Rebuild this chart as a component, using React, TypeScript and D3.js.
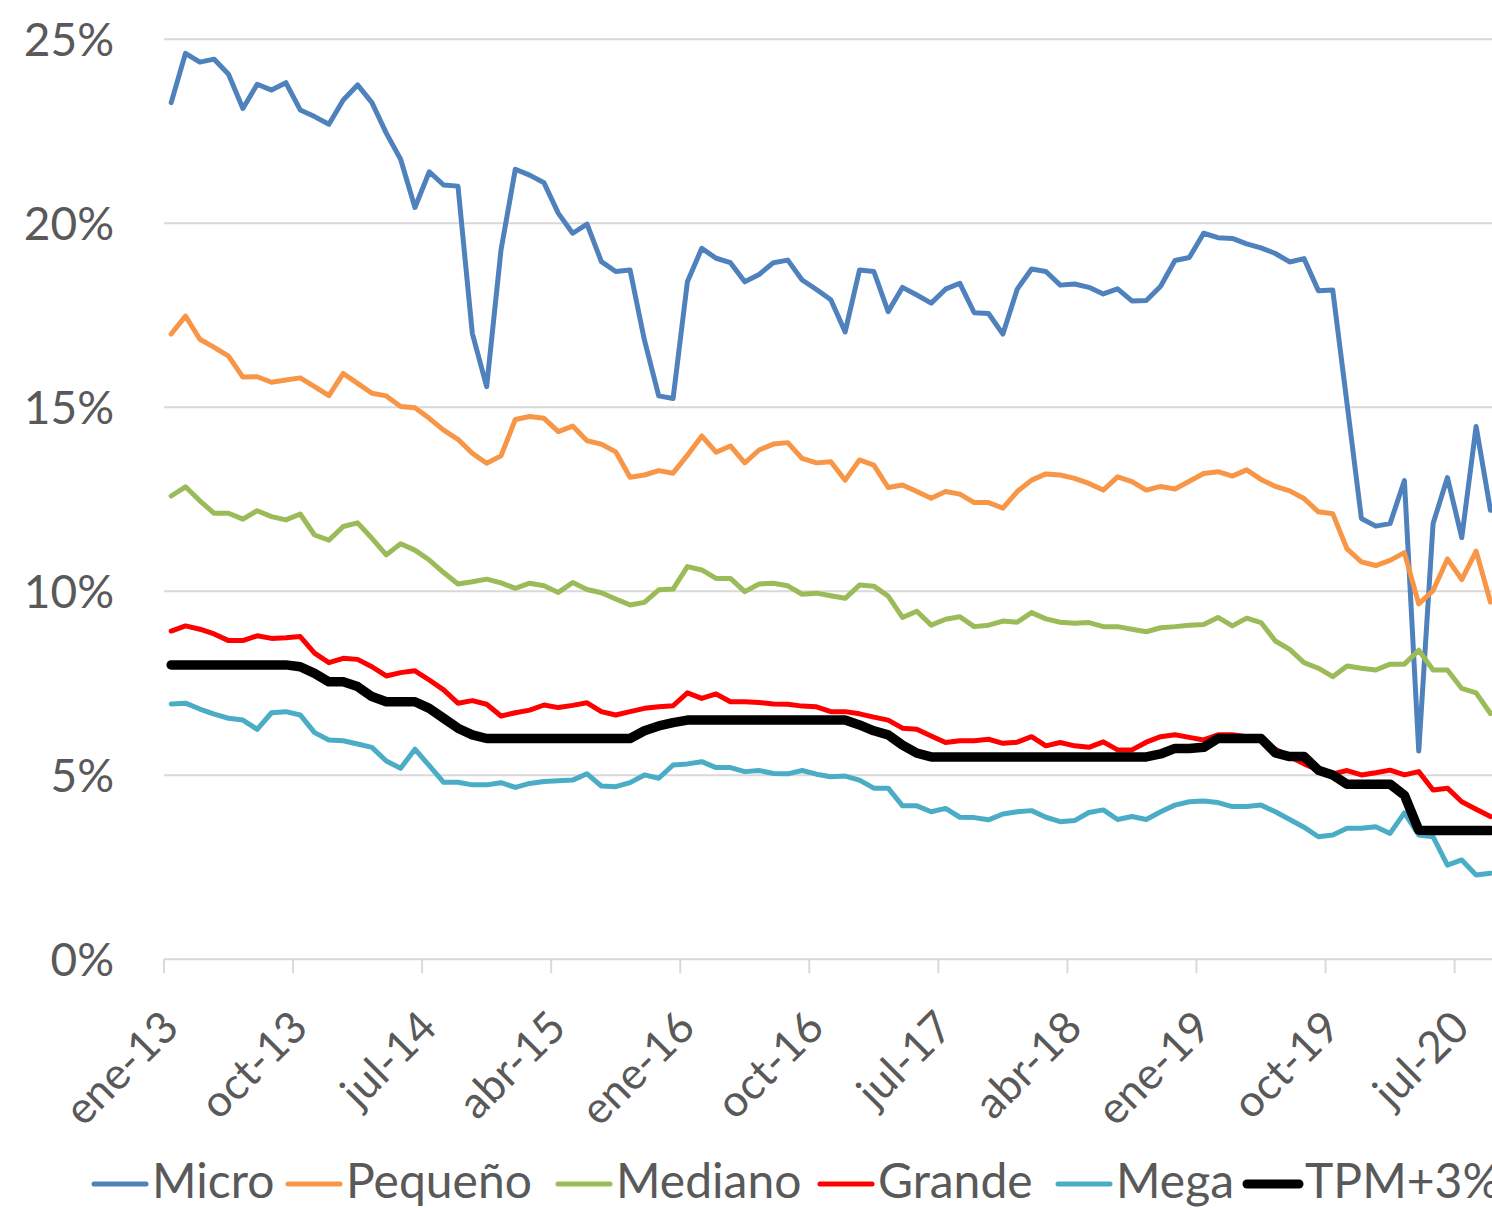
import * as d3 from "d3";

const MONTHS = ["ene", "feb", "mar", "abr", "may", "jun", "jul", "ago", "sep", "oct", "nov", "dic"];

// ene-13 .. sep-20, monthly
const categories: string[] = [];
for (let yr = 13; yr <= 20; yr++) {
    for (const m of MONTHS) categories.push(`${m}-${yr}`);
}
categories.splice(93);

const yTicks = [0, 5, 10, 15, 20, 25];

const micro = [
    23.28, 24.62, 24.38, 24.46, 24.05, 23.12, 23.78, 23.62, 23.82, 23.08,
    22.9, 22.69, 23.35, 23.76, 23.28, 22.45, 21.74, 20.43, 21.4, 21.04,
    21.01, 17.01, 15.56, 19.27, 21.47, 21.31, 21.1, 20.27, 19.73, 19.98,
    18.96, 18.69, 18.73, 16.83, 15.31, 15.24, 18.41, 19.32, 19.05, 18.93,
    18.41, 18.61, 18.93, 19.0, 18.46, 18.2, 17.92, 17.05, 18.73, 18.69,
    17.6, 18.26, 18.05, 17.83, 18.21, 18.37, 17.57, 17.55, 16.99, 18.21,
    18.76, 18.69, 18.32, 18.35, 18.26, 18.08, 18.22, 17.89, 17.9, 18.29,
    18.99, 19.07, 19.73, 19.61, 19.59, 19.44, 19.33, 19.18, 18.95, 19.04,
    18.17, 18.19, 15.1, 11.98, 11.77, 11.84, 13.01, 5.66, 11.84, 13.09,
    11.46, 14.48, 12.2,
];

const pequeno = [
    16.99, 17.48, 16.85, 16.63, 16.39, 15.82, 15.83, 15.68, 15.74, 15.8,
    15.56, 15.32, 15.92, 15.65, 15.38, 15.31, 15.02, 14.99, 14.7, 14.38,
    14.13, 13.75, 13.48, 13.68, 14.67, 14.75, 14.7, 14.34, 14.49, 14.09,
    14.0, 13.79, 13.1, 13.16, 13.28, 13.21, 13.7, 14.22, 13.78, 13.95,
    13.49, 13.84, 14.0, 14.04, 13.61, 13.49, 13.52, 13.02, 13.57, 13.43,
    12.82, 12.89, 12.71, 12.53, 12.71, 12.64, 12.41, 12.41, 12.26, 12.71,
    13.02, 13.19, 13.16, 13.07, 12.93, 12.75, 13.11, 12.98, 12.75, 12.85,
    12.78, 12.99, 13.2, 13.25, 13.13, 13.3, 13.04, 12.85, 12.73, 12.52,
    12.16, 12.11, 11.15, 10.8, 10.7, 10.84, 11.05, 9.66, 10.02, 10.88,
    10.32, 11.09, 9.71,
];

const mediano = [
    12.59, 12.84, 12.46, 12.12, 12.12, 11.96, 12.19, 12.03, 11.94, 12.1,
    11.53, 11.39, 11.76, 11.86, 11.44, 10.99, 11.29, 11.12, 10.85, 10.51,
    10.2, 10.26, 10.33, 10.23, 10.08, 10.22, 10.15, 9.97, 10.24, 10.05,
    9.96, 9.79, 9.63, 9.7, 10.04, 10.06, 10.67, 10.58, 10.35, 10.35,
    9.99, 10.2, 10.22, 10.15, 9.92, 9.95, 9.88, 9.81, 10.17, 10.14,
    9.87, 9.29, 9.46, 9.08, 9.24, 9.31, 9.04, 9.08, 9.19, 9.16,
    9.42, 9.25, 9.16, 9.13, 9.15, 9.04, 9.04, 8.97, 8.9, 9.01,
    9.04, 9.08, 9.1, 9.29, 9.06, 9.27, 9.15, 8.65, 8.42, 8.06,
    7.91, 7.68, 7.97, 7.91, 7.86, 8.02, 8.02, 8.4, 7.86, 7.86,
    7.36, 7.24, 6.68,
];

const grande = [
    8.92, 9.06, 8.97, 8.84, 8.66, 8.66, 8.79, 8.72, 8.74, 8.77,
    8.32, 8.06, 8.18, 8.15, 7.95, 7.7, 7.79, 7.84, 7.59, 7.32,
    6.96, 7.03, 6.93, 6.61, 6.7, 6.77, 6.91, 6.84, 6.9, 6.97,
    6.73, 6.64, 6.73, 6.82, 6.86, 6.89, 7.24, 7.09, 7.21, 7.0,
    7.0, 6.98, 6.94, 6.93, 6.88, 6.86, 6.73, 6.73, 6.67, 6.58,
    6.5, 6.28, 6.25, 6.07, 5.89, 5.94, 5.94, 5.98, 5.87, 5.9,
    6.05, 5.8, 5.89, 5.8, 5.76, 5.91, 5.69, 5.69, 5.9, 6.05,
    6.1, 6.03, 5.96, 6.1, 6.1, 6.05, 5.96, 5.71, 5.51, 5.31,
    5.14, 5.04, 5.13, 5.01, 5.07, 5.14, 5.01, 5.1, 4.6, 4.65,
    4.28, 4.08, 3.88,
];

const mega = [
    6.94, 6.96, 6.8, 6.66, 6.55, 6.5, 6.25, 6.7, 6.73, 6.64,
    6.16, 5.96, 5.94, 5.85, 5.76, 5.39, 5.19, 5.71, 5.26, 4.81,
    4.81, 4.74, 4.74, 4.8, 4.67, 4.78, 4.83, 4.85, 4.87, 5.04,
    4.71, 4.69, 4.8, 5.01, 4.92, 5.28, 5.31, 5.37, 5.21, 5.21,
    5.1, 5.13, 5.05, 5.04, 5.13, 5.03, 4.96, 4.98, 4.87, 4.65,
    4.65, 4.17, 4.17, 4.01, 4.1, 3.86, 3.85, 3.79, 3.95, 4.01,
    4.04, 3.86, 3.74, 3.77, 3.99, 4.06, 3.8, 3.88, 3.8, 4.01,
    4.19, 4.28, 4.3, 4.26, 4.15, 4.15, 4.19, 4.01, 3.8, 3.59,
    3.33, 3.38, 3.56, 3.56, 3.6, 3.42, 3.98, 3.38, 3.33, 2.56,
    2.7, 2.29, 2.34,
];

const tpm = [
    8, 8, 8, 8, 8, 8, 8, 8, 8, 7.95,
    7.77, 7.54, 7.54, 7.41, 7.14, 7.0, 7.0, 7.0, 6.82, 6.55,
    6.28, 6.1, 6.0, 6.0, 6.0, 6.0, 6.0, 6.0, 6.0, 6.0,
    6.0, 6.0, 6.0, 6.21, 6.34, 6.43, 6.5, 6.5, 6.5, 6.5,
    6.5, 6.5, 6.5, 6.5, 6.5, 6.5, 6.5, 6.5, 6.37, 6.21,
    6.1, 5.82, 5.6, 5.5, 5.5, 5.5, 5.5, 5.5, 5.5, 5.5,
    5.5, 5.5, 5.5, 5.5, 5.5, 5.5, 5.5, 5.5, 5.5, 5.58,
    5.73, 5.73, 5.76, 6.0, 6.0, 6.0, 6.0, 5.61, 5.51, 5.51,
    5.14, 5.01, 4.76, 4.76, 4.76, 4.76, 4.46, 3.51, 3.5, 3.5,
    3.5, 3.5, 3.5,
];

const seriesNames = ["Micro", "Pequeño", "Mediano", "Grande", "Mega", "TPM+3%"];
const seriesValues = [micro, pequeno, mediano, grande, mega, tpm];
const seriesColors = ["#4F81BD", "#F79646", "#9BBB59", "#FF0000", "#4BACC6", "#000000"];

const W = 1492;
const H = 1208;
const FONT = "Lato, 'Open Sans', sans-serif";
const TEXT = "#595959";
const GRID = "#D9D9D9";

// legend entry left edges (line start), measured off the layout
const legendX = [92, 286, 556, 818, 1056, 1245];

export default function App() {
    const step = 14.34;
    const x = d3
        .scaleBand<string>()
        .domain(categories)
        .range([164, 164 + categories.length * step])
        .padding(0);
    const y = d3.scaleLinear().domain([0, 25]).range([959.3, 39.3]);

    const line = d3
        .line<number>()
        .x((_d, i) => x(categories[i])! + x.bandwidth() / 2)
        .y(d => y(d));

    const tickIdx = categories.map((_c, i) => i).filter(i => i % 9 === 0);

    return (
        <svg
            width={W}
            height={H}
            style={{ position: "absolute", left: 0, top: 0, background: "#fff" }}
            fontFamily={FONT}
        >
            {/* gridlines */}
            {yTicks.map(t => (
                <line key={t} x1={164} x2={W} y1={y(t)} y2={y(t)} stroke={GRID} strokeWidth={2} />
            ))}
            {yTicks.map(t => (
                <text
                    key={"l" + t}
                    x={114}
                    y={y(t)}
                    dy="0.36em"
                    textAnchor="end"
                    fontSize={46}
                    fill={TEXT}
                >
                    {t}%
                </text>
            ))}

            {/* x axis ticks + labels */}
            {tickIdx.map(i => (
                <line
                    key={"t" + i}
                    x1={x(categories[i])}
                    x2={x(categories[i])}
                    y1={y(0)}
                    y2={y(0) + 14}
                    stroke={GRID}
                    strokeWidth={2}
                />
            ))}
            {tickIdx.map(i => (
                <text
                    key={"x" + i}
                    transform={`translate(${x(categories[i])! + 17},1030) rotate(-45)`}
                    textAnchor="end"
                    fontSize={44}
                    fill={TEXT}
                >
                    {categories[i]}
                </text>
            ))}

            {/* series */}
            {seriesValues.map((vals, k) => (
                <path
                    key={seriesNames[k]}
                    d={line(vals)!}
                    fill="none"
                    stroke={seriesColors[k]}
                    strokeWidth={k === 5 ? 9.5 : 5}
                    strokeLinejoin="round"
                    strokeLinecap="round"
                />
            ))}

            {/* legend */}
            {seriesNames.map((name, k) => (
                <g key={"lg" + name} transform={`translate(${legendX[k]},0)`}>
                    <line
                        x1={2}
                        x2={54}
                        y1={1184}
                        y2={1184}
                        stroke={seriesColors[k]}
                        strokeWidth={k === 5 ? 9 : 5}
                        strokeLinecap="round"
                    />
                    <text x={60} y={1198} fontSize={48} fill={TEXT}>
                        {name}
                    </text>
                </g>
            ))}
        </svg>
    );
}
